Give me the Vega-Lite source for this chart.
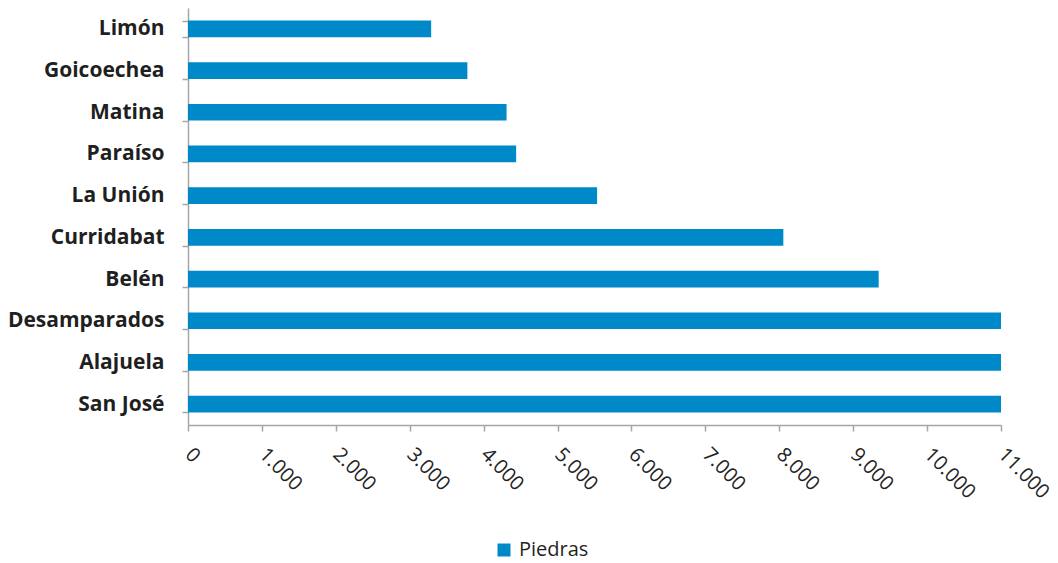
{
  "$schema": "https://vega.github.io/schema/vega-lite/v6.json",
  "autosize": "none",
  "padding": {"left": 188, "top": 8, "right": 57, "bottom": 138},
  "width": 813,
  "height": 417,
  "background": "white",
  "data": {
    "values": [
      {"municipio": "Limón", "valor": 3290, "serie": "Piedras"},
      {"municipio": "Goicoechea", "valor": 3780, "serie": "Piedras"},
      {"municipio": "Matina", "valor": 4310, "serie": "Piedras"},
      {"municipio": "Paraíso", "valor": 4440, "serie": "Piedras"},
      {"municipio": "La Unión", "valor": 5535, "serie": "Piedras"},
      {"municipio": "Curridabat", "valor": 8055, "serie": "Piedras"},
      {"municipio": "Belén", "valor": 9345, "serie": "Piedras"},
      {"municipio": "Desamparados", "valor": 11000, "serie": "Piedras"},
      {"municipio": "Alajuela", "valor": 11000, "serie": "Piedras"},
      {"municipio": "San José", "valor": 11000, "serie": "Piedras"}
    ]
  },
  "config": {
    "view": {"stroke": null},
    "font": "Open Sans"
  },
  "mark": {"type": "bar", "clip": true},
  "encoding": {
    "y": {
      "field": "municipio",
      "type": "nominal",
      "sort": null,
      "scale": {"paddingInner": 0.6, "paddingOuter": 0.3},
      "axis": {
        "title": null,
        "domainColor": "#A6A6A6",
        "domainWidth": 1.5,
        "tickColor": "#A6A6A6",
        "tickWidth": 1.5,
        "tickSize": 6,
        "tickBand": "extent",
        "labelFont": "Open Sans",
        "labelFontWeight": "bold",
        "labelFontSize": 21,
        "labelColor": "#1F1F1F",
        "labelPadding": 18
      }
    },
    "x": {
      "field": "valor",
      "type": "quantitative",
      "scale": {"domain": [0, 11000], "nice": false},
      "axis": {
        "title": null,
        "grid": false,
        "values": [0, 1000, 2000, 3000, 4000, 5000, 6000, 7000, 8000, 9000, 10000, 11000],
        "labelExpr": "replace(format(datum.value, ','), ',', '.')",
        "domainColor": "#A6A6A6",
        "domainWidth": 1.5,
        "tickColor": "#A6A6A6",
        "tickWidth": 1.5,
        "tickSize": 6,
        "labelAngle": 45,
        "labelAlign": "left",
        "labelBaseline": "middle",
        "labelPadding": 20,
        "labelFont": "Open Sans",
        "labelFontSize": 20,
        "labelColor": "#222222",
        "labelFlush": false,
        "labelOverlap": false
      }
    },
    "color": {
      "field": "serie",
      "type": "nominal",
      "scale": {"range": ["#0089C9"]},
      "legend": {
        "title": null,
        "orient": "none",
        "legendX": 306,
        "legendY": 532,
        "padding": 0,
        "symbolType": "square",
        "symbolSize": 169,
        "symbolStrokeWidth": 0,
        "labelFont": "Open Sans",
        "labelFontSize": 20,
        "labelColor": "#1F1F1F",
        "labelOffset": 5
      }
    }
  }
}
